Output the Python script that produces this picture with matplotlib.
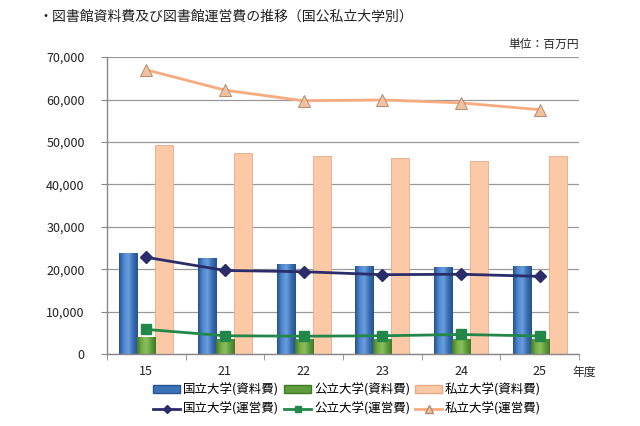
import numpy as np
import matplotlib
matplotlib.use("Agg")
import matplotlib.pyplot as plt
from matplotlib.lines import Line2D
from matplotlib.patches import Patch
from matplotlib.colors import LinearSegmentedColormap

plt.rcParams['font.family'] = ['Noto Sans CJK JP', 'DejaVu Sans']

# data (百万円)
years = ['15', '21', '22', '23', '24', '25']
kokuritsu_shiryo = [23800, 22700, 21200, 20800, 20400, 20800]
kouritsu_shiryo = [3900, 3500, 3500, 3500, 3450, 3500]
shiritsu_shiryo = [49300, 47400, 46700, 46100, 45600, 46600]
kokuritsu_unei = [22800, 19700, 19400, 18700, 18800, 18300]
kouritsu_unei = [5800, 4300, 4200, 4300, 4600, 4250]
shiritsu_unei = [67000, 62200, 59700, 59900, 59200, 57600]

bar_labels = ['国立大学(資料費)', '公立大学(資料費)', '私立大学(資料費)']
line_labels = ['国立大学(運営費)', '公立大学(運営費)', '私立大学(運営費)']

fig = plt.figure(figsize=(6.4, 4.26), dpi=100)
ax = fig.add_axes([0.167, 0.169, 0.738, 0.697])

x = np.arange(len(years))
w = 0.229
bar_colors = ['#3b72b8', '#5e9c3c', '#fcc9a6']
bar_edges = ['#2a5490', '#3f7a26', '#e9a98a']
# cylinder-like shading for the blue and green bars
shades = [LinearSegmentedColormap.from_list('b', ['#24528f', '#4f88cf', '#6a9edd', '#3a6fb3', '#24528f']),
          LinearSegmentedColormap.from_list('g', ['#3f7a26', '#74ad48', '#8cc05e', '#5e9c3c', '#3f7a26']),
          None]
grad = np.linspace(0, 1, 64).reshape(1, -1)
for i, vals in enumerate([kokuritsu_shiryo, kouritsu_shiryo, shiritsu_shiryo]):
    bars = ax.bar(x + (i - 1) * w, vals, width=w, color=bar_colors[i],
                  edgecolor=bar_edges[i], linewidth=0.6, zorder=2)
    if shades[i] is not None:
        for b in bars:
            im = ax.imshow(grad, cmap=shades[i], aspect='auto', zorder=2.1,
                           extent=[b.get_x(), b.get_x() + b.get_width(), 0, b.get_height()])
            im.set_clip_path(b)

ax.plot(x, kokuritsu_unei, color='#2b2d6b', lw=2, marker='D', ms=6, zorder=3)
ax.plot(x, kouritsu_unei, color='#23874a', lw=2, marker='s', ms=7, zorder=3)
ax.plot(x, shiritsu_unei, color='#f7ab7e', lw=2, marker='^', ms=8,
        mfc='#efc2a2', mec='#b88a6a', mew=0.7, zorder=3)

ax.set_xlim(-0.5, 5.5)
ax.set_ylim(0, 70000)
ax.set_yticks(np.arange(0, 70001, 10000))
ax.set_yticklabels([f'{v:,}' for v in range(0, 70001, 10000)], fontsize=9, color='#222222')
ax.yaxis.grid(True, color='#999999', lw=0.9, zorder=0)
ax.set_axisbelow(True)

ax.set_xticks(x)
ax.set_xticklabels(years, fontsize=9, color='#222222')
ax.set_xticks(np.arange(-0.5, 6, 1), minor=True)
ax.tick_params(axis='x', which='major', length=0, pad=8)
ax.tick_params(axis='x', which='minor', length=4, color='#888888')
ax.tick_params(axis='y', length=4, color='#888888', pad=12)

for s in ['top', 'right']:
    ax.spines[s].set_visible(False)
for s in ['left', 'bottom']:
    ax.spines[s].set_color('#888888')
    ax.spines[s].set_linewidth(1.0)

fig.text(0.06, 0.96, '・図書館資料費及び図書館運営費の推移（国公私立大学別）',
         fontsize=10, ha='left', va='center', color='#222222')
fig.text(0.905, 0.895, '単位：百万円', fontsize=8.5, ha='right', va='center', color='#222222')
fig.text(0.895, 0.125, '年度', fontsize=8.5, ha='left', va='center', color='#222222')

handles = []
labels = []
line_styles = [dict(color='#2b2d6b', marker='D', ms=4),
               dict(color='#23874a', marker='s', ms=5),
               dict(color='#f7ab7e', marker='^', ms=6, mfc='#efc2a2', mec='#b88a6a')]
for i in range(3):
    handles.append(Patch(facecolor=bar_colors[i], edgecolor=bar_edges[i]))
    labels.append(bar_labels[i])
    handles.append(Line2D([], [], lw=2, **line_styles[i]))
    labels.append(line_labels[i])

fig.legend(handles, labels, ncol=3, loc='center', bbox_to_anchor=(0.542, 0.062),
           frameon=False, fontsize=9, handlelength=2.2, handleheight=0.6,
           columnspacing=0.4, handletextpad=0.2, labelspacing=0.45)

fig.savefig('out.png', dpi=100)
